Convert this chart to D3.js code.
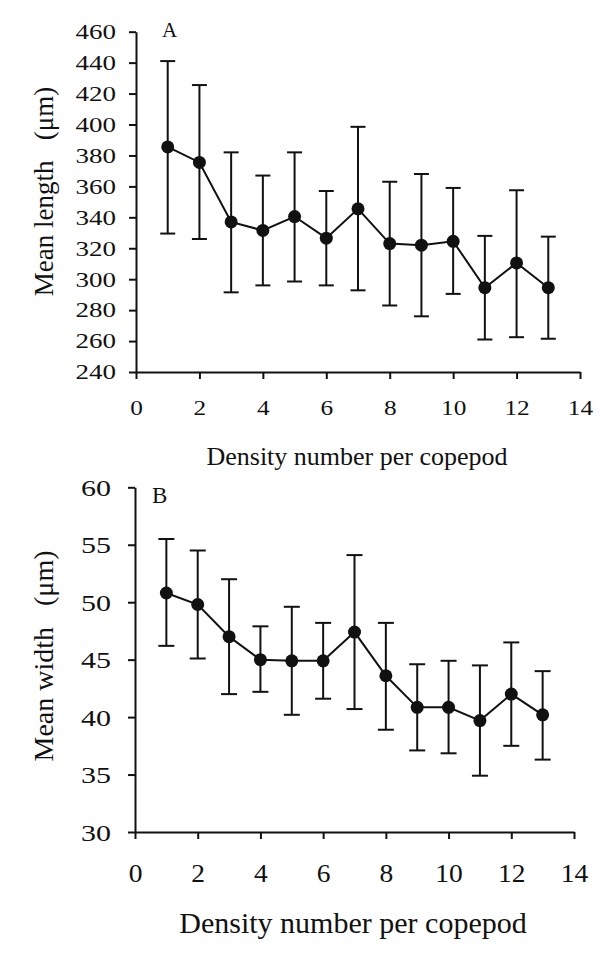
<!DOCTYPE html>
<html>
<head>
<meta charset="utf-8">
<script src="https://cdn.jsdelivr.net/npm/d3@7"></script>
<style>
  html, body { margin: 0; padding: 0; background: #fff; }
  svg { display: block; }
  svg text { font-family: "Liberation Serif", "DejaVu Serif", serif !important; fill: #111; }
</style>
</head>
<body>
<svg id="chart" width="600" height="959"></svg>
<script>
// ---- data ----
const density = [1, 2, 3, 4, 5, 6, 7, 8, 9, 10, 11, 12, 13];

const lengthMean  = [385.5, 375.5, 337, 331.5, 340.5, 326.5, 345.5, 323, 322, 324.5, 294.5, 310.5, 294.5];
const lengthUpper = [441, 425.5, 382, 367, 382, 357, 398.5, 363, 368, 359, 328, 357.5, 327.5];
const lengthLower = [329.5, 326, 291.5, 296, 298.5, 296, 292.8, 283, 276, 290.5, 261, 262.5, 261.5];

const widthMean  = [50.8, 49.8, 47.0, 45.0, 44.9, 44.9, 47.4, 43.6, 40.85, 40.85, 39.7, 42.0, 40.2];
const widthUpper = [55.5, 54.5, 52.0, 47.9, 49.6, 48.2, 54.1, 48.2, 44.6, 44.9, 44.5, 46.5, 44.0];
const widthLower = [46.2, 45.1, 42.0, 42.2, 40.2, 41.6, 40.7, 38.9, 37.1, 36.85, 34.9, 37.5, 36.3];

const xTicks = [0, 2, 4, 6, 8, 10, 12, 14];
const lengthTicks = [240, 260, 280, 300, 320, 340, 360, 380, 400, 420, 440, 460];
const widthTicks = [30, 35, 40, 45, 50, 55, 60];

const svg = d3.select("#chart");
const ink = "#111";
const serif = '"Liberation Serif", "DejaVu Serif", serif';

function panel(cfg) {
  const x = d3.scaleLinear().domain([0, 14]).range([cfg.left, cfg.right]);
  const y = d3.scaleLinear().domain(cfg.yDomain).range([cfg.bottom, cfg.top]);
  const g = svg.append("g");

  // y axis
  const ya = g.append("g")
    .attr("transform", `translate(${cfg.left},0)`)
    .call(d3.axisLeft(y).tickValues(cfg.yTicks).tickSize(7).tickSizeOuter(0).tickFormat(d3.format("d")))
    .attr("font-family", serif);
  ya.select(".domain").attr("stroke", ink).attr("stroke-width", 2);
  ya.selectAll(".tick line").attr("stroke", ink).attr("stroke-width", 2);
  ya.selectAll(".tick text")
    .attr("font-size", cfg.yTickFont)
    .style("font-family", serif)
    .attr("text-anchor", "end")
    .attr("dy", "0.34em")
    .attr("x", -cfg.yTickGap / cfg.yTickSx)
    .attr("transform", `scale(${cfg.yTickSx},1)`)
    .attr("fill", ink);

  // x axis
  const xa = g.append("g")
    .attr("transform", `translate(0,${cfg.bottom})`)
    .call(d3.axisBottom(x).tickValues(xTicks).tickSize(7).tickSizeOuter(0).tickFormat(d3.format("d")))
    .attr("font-family", serif);
  xa.select(".domain").attr("stroke", ink).attr("stroke-width", 2);
  xa.selectAll(".tick line").attr("stroke", ink).attr("stroke-width", 2);
  xa.selectAll(".tick text")
    .attr("font-size", cfg.xTickFont)
    .style("font-family", serif)
    .attr("dy", 0)
    .attr("y", cfg.xTickBase)
    .attr("transform", `scale(${cfg.xTickSx},1)`)
    .attr("fill", ink);

  const pts = density.map((d, i) => ({ x: d, m: cfg.mean[i], hi: cfg.upper[i], lo: cfg.lower[i] }));

  // error bars
  const eb = g.append("g").attr("stroke", ink).attr("stroke-width", 2);
  eb.selectAll("line.v").data(pts).join("line").attr("class", "v")
    .attr("x1", d => x(d.x)).attr("x2", d => x(d.x))
    .attr("y1", d => y(d.hi)).attr("y2", d => y(d.lo));
  eb.selectAll("line.t").data(pts).join("line").attr("class", "t")
    .attr("x1", d => x(d.x) - cfg.cap).attr("x2", d => x(d.x) + cfg.cap)
    .attr("y1", d => y(d.hi)).attr("y2", d => y(d.hi));
  eb.selectAll("line.b").data(pts).join("line").attr("class", "b")
    .attr("x1", d => x(d.x) - cfg.cap).attr("x2", d => x(d.x) + cfg.cap)
    .attr("y1", d => y(d.lo)).attr("y2", d => y(d.lo));

  // line
  g.append("path").datum(pts)
    .attr("fill", "none").attr("stroke", ink).attr("stroke-width", 2)
    .attr("d", d3.line().x(d => x(d.x)).y(d => y(d.m)));

  // markers
  g.selectAll("circle").data(pts).join("circle")
    .attr("cx", d => x(d.x)).attr("cy", d => y(d.m)).attr("r", cfg.r).attr("fill", ink);

  // panel letter
  g.append("text").attr("x", cfg.letterX).attr("y", cfg.letterY)
    .attr("font-size", cfg.letterFont).text(cfg.letter);

  // x title
  g.append("text").attr("x", cfg.xTitleX).attr("y", cfg.xTitleY)
    .attr("text-anchor", "middle").attr("font-size", cfg.xTitleFont)
    .text("Density number per copepod");

  // y title
  g.append("text")
    .attr("transform", `translate(${cfg.yTitleX},${cfg.yTitleY}) rotate(-90)`)
    .attr("text-anchor", "middle").attr("font-size", cfg.yTitleFont)
    .style("white-space", "pre")
    .text(cfg.yTitle);
}

panel({
  left: 136, right: 580, top: 31.7, bottom: 372,
  yDomain: [240, 460], yTicks: lengthTicks,
  mean: lengthMean, upper: lengthUpper, lower: lengthLower,
  yTickFont: 20, yTickSx: 1.35, yTickGap: 20,
  xTickFont: 22, xTickSx: 1.15, xTickBase: 43,
  cap: 7.5, r: 6.5,
  letter: "A", letterX: 162, letterY: 37, letterFont: 21,
  xTitleX: 357, xTitleY: 465, xTitleFont: 26,
  yTitle: "Mean length   (\u03bcm)", yTitleX: 53, yTitleY: 191.5, yTitleFont: 27
});

panel({
  left: 135, right: 574, top: 487.3, bottom: 832,
  yDomain: [30, 60], yTicks: widthTicks,
  mean: widthMean, upper: widthUpper, lower: widthLower,
  yTickFont: 24, yTickSx: 1.25, yTickGap: 24,
  xTickFont: 25, xTickSx: 1.1, xTickBase: 50,
  cap: 8, r: 6.5,
  letter: "B", letterX: 152, letterY: 503, letterFont: 23,
  xTitleX: 353, xTitleY: 933, xTitleFont: 30,
  yTitle: "Mean width   (\u03bcm)", yTitleX: 53, yTitleY: 656, yTitleFont: 28
});
</script>
</body>
</html>
